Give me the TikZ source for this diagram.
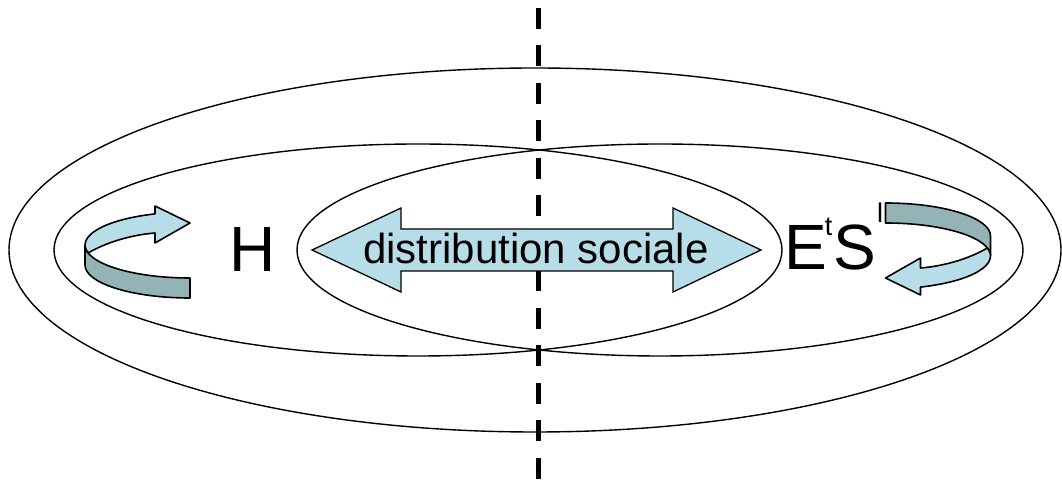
\documentclass[tikz,border=0pt]{standalone}
\usepackage{fontspec}
\setmainfont{Liberation Sans}
\usepackage{xcolor}
\definecolor{TurnLight}{HTML}{B7DEE8}
\definecolor{TurnDark}{HTML}{93B3B7}
\tikzset{
  ring/.style={draw=black, line width=1.4pt},
  cutline/.style={draw=black, line width=5pt, dash pattern=on 21pt off 16.5pt},
  spread/.style={draw=black, line width=1.3pt, fill=TurnLight, line join=miter},
  topface/.style={draw=black, line width=1.6pt, fill=TurnLight, line join=round},
  wallface/.style={draw=black, line width=1.6pt, fill=TurnDark, line join=round},
  bigletter/.style={inner sep=0pt, font=\fontsize{64}{70}\selectfont},
  midtext/.style={inner sep=0pt, font=\fontsize{42}{48}\selectfont},
  turn/.pic={
    \path[wallface] (-105,0) -- (-105,-20)
      arc[start angle=180, end angle=270, x radius=105pt, y radius=33pt]
      -- ++(0,20)
      arc[start angle=270, end angle=180, x radius=105pt, y radius=33pt] -- cycle;
    \path[topface] (-35,31.1)
      arc[start angle=109.5, end angle=194, x radius=105pt, y radius=33pt]
      .. controls (-85,2) and (-60,10) .. (-35,12)
      -- (-35,2) -- (0,22) -- (-35,39) -- cycle;
  }
}
\newcommand{\supup}[2]{\raisebox{#1}{\fontsize{27}{27}\selectfont #2}}

\begin{document}
\begin{tikzpicture}[x=1pt, y=1pt]
  \useasboundingbox (0,0) rectangle (1062,481);
  % rings
  \draw[ring] (535,231) ellipse [x radius=526pt, y radius=182pt];
  \draw[ring] (418,231) ellipse [x radius=364pt, y radius=106pt];
  \draw[ring] (660,231) ellipse [x radius=363pt, y radius=106pt];
  % axis
  \coordinate (axtop) at (538.5,473);
  \coordinate (axbot) at (538.5,0);
  \draw[cutline] (axtop) -- (axbot);
  % double arrow
  \path[spread] (312,231) -- (401,273) -- (401,252) -- (673,252) -- (673,273)
    -- (761,231) -- (673,189) -- (673,210) -- (401,210) -- (401,189) -- cycle;
  \node[midtext, anchor=base] (ds) at (536,217) {distribution sociale};
  % labels
  \node[bigletter, anchor=base] (h) at (253,209) {H};
  \node[bigletter, anchor=base west] (es) at (784,211)
    {E\kern-2pt\supup{34pt}{t}\kern1pt S\kern1pt\supup{47pt}{l}};
  % turning arrows
  \pic at (190,236) {turn};
  \pic[rotate=180] at (885.5,225) {turn};
\end{tikzpicture}
\end{document}
